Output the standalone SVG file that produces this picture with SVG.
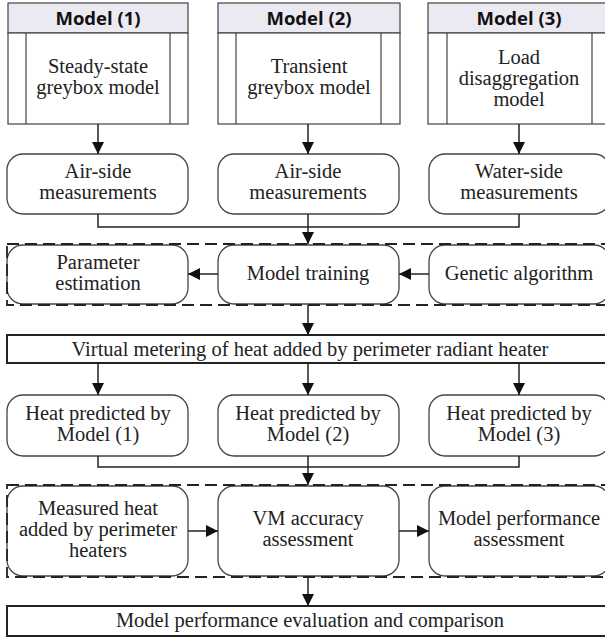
<svg xmlns="http://www.w3.org/2000/svg" width="605" height="638" viewBox="0 0 605 638">
<style>
.hdr{fill:#ebe9f2;stroke:#444;stroke-width:1.2}
.box{fill:#fff;stroke:#444;stroke-width:1.2}
.rb{fill:#fff;stroke:#444;stroke-width:1.3}
.thick{fill:#fff;stroke:#222;stroke-width:2}
.dash{fill:none;stroke:#222;stroke-width:1.8;stroke-dasharray:12 6}
.ln{fill:none;stroke:#222;stroke-width:1.5}
.t{font-family:"Liberation Serif","Times New Roman",serif;font-size:20.5px;fill:#222;text-anchor:middle}
.h{font-family:"Open Sans","Liberation Sans",sans-serif;font-weight:bold;font-size:18.5px;fill:#111;text-anchor:middle}
</style>
<defs>
<marker id="ah" markerWidth="12" markerHeight="12" viewBox="0 0 12 12" refX="12" refY="6" orient="auto" markerUnits="userSpaceOnUse">
<path d="M0,0 L12,6 L0,12 Z" fill="#111"/>
</marker>
</defs>

<g id="model1">
<rect class="hdr" x="8" y="3" width="180" height="30"/>
<rect class="box" x="8" y="33" width="180" height="91"/>
<line class="box" x1="26" y1="33" x2="26" y2="124"/>
<line class="box" x1="170" y1="33" x2="170" y2="124"/>
<text class="h" x="98" y="25">Model (1)</text>
<text class="t" x="98" y="73">Steady-state</text>
<text class="t" x="98" y="94">greybox model</text>
</g>
<g id="model2">
<rect class="hdr" x="218" y="3" width="182" height="30"/>
<rect class="box" x="218" y="33" width="182" height="91"/>
<line class="box" x1="236" y1="33" x2="236" y2="124"/>
<line class="box" x1="381" y1="33" x2="381" y2="124"/>
<text class="h" x="309" y="25">Model (2)</text>
<text class="t" x="309" y="73">Transient</text>
<text class="t" x="309" y="94">greybox model</text>
</g>
<g id="model3">
<rect class="hdr" x="428" y="3" width="182" height="30"/>
<rect class="box" x="428" y="33" width="182" height="91"/>
<line class="box" x1="447" y1="33" x2="447" y2="124"/>
<line class="box" x1="592" y1="33" x2="592" y2="124"/>
<text class="h" x="519" y="25">Model (3)</text>
<text class="t" x="519" y="64">Load</text>
<text class="t" x="519" y="85">disaggregation</text>
<text class="t" x="519" y="106">model</text>
</g>

<g id="air1"><rect class="rb" x="7" y="154" width="181" height="60" rx="16"/>
<text class="t" x="98" y="178">Air-side</text><text class="t" x="98" y="199">measurements</text></g>
<g id="air2"><rect class="rb" x="218" y="154" width="181" height="60" rx="16"/>
<text class="t" x="308" y="178">Air-side</text><text class="t" x="308" y="199">measurements</text></g>
<g id="water"><rect class="rb" x="429" y="154" width="181" height="60" rx="16"/>
<text class="t" x="519" y="178">Water-side</text><text class="t" x="519" y="199">measurements</text></g>

<g id="param"><rect class="rb" x="7" y="245" width="181" height="59" rx="16"/>
<text class="t" x="98" y="269">Parameter</text><text class="t" x="98" y="290">estimation</text></g>
<g id="training"><rect class="rb" x="218" y="245" width="181" height="59" rx="16"/>
<text class="t" x="308" y="280">Model training</text></g>
<g id="genetic"><rect class="rb" x="429" y="245" width="181" height="59" rx="16"/>
<text class="t" x="519" y="280">Genetic algorithm</text></g>
<rect id="group1" class="dash" x="7" y="244" width="603" height="61"/>

<g id="virtual"><rect class="thick" x="7" y="335" width="603" height="28"/>
<text class="t" x="310" y="356">Virtual metering of heat added by perimeter radiant heater</text></g>

<g id="heat1"><rect class="rb" x="7" y="395" width="181" height="61" rx="16"/>
<text class="t" x="98" y="420">Heat predicted by</text><text class="t" x="98" y="441">Model (1)</text></g>
<g id="heat2"><rect class="rb" x="218" y="395" width="181" height="61" rx="16"/>
<text class="t" x="308" y="420">Heat predicted by</text><text class="t" x="308" y="441">Model (2)</text></g>
<g id="heat3"><rect class="rb" x="429" y="395" width="181" height="61" rx="16"/>
<text class="t" x="519" y="420">Heat predicted by</text><text class="t" x="519" y="441">Model (3)</text></g>

<g id="measured"><rect class="rb" x="7" y="486" width="181" height="90" rx="16"/>
<text class="t" x="98" y="515">Measured heat</text><text class="t" x="98" y="536">added by perimeter</text><text class="t" x="98" y="557">heaters</text></g>
<g id="vm"><rect class="rb" x="218" y="486" width="181" height="90" rx="16"/>
<text class="t" x="308" y="525">VM accuracy</text><text class="t" x="308" y="546">assessment</text></g>
<g id="perf"><rect class="rb" x="429" y="486" width="181" height="90" rx="16"/>
<text class="t" x="519" y="525">Model performance</text><text class="t" x="519" y="546">assessment</text></g>
<rect id="group2" class="dash" x="7" y="485" width="603" height="92"/>

<g id="final"><rect class="thick" x="7" y="606" width="603" height="30"/>
<text class="t" x="310" y="627">Model performance evaluation and comparison</text></g>

<g id="connectors">
<line class="ln" x1="98" y1="124" x2="98" y2="154" marker-end="url(#ah)"/>
<line class="ln" x1="308" y1="124" x2="308" y2="154" marker-end="url(#ah)"/>
<line class="ln" x1="519" y1="124" x2="519" y2="154" marker-end="url(#ah)"/>
<polyline class="ln" points="98,214 98,227 519,227 519,214"/>
<line class="ln" x1="308" y1="214" x2="308" y2="244" marker-end="url(#ah)"/>
<line class="ln" x1="218" y1="274" x2="188" y2="274" marker-end="url(#ah)"/>
<line class="ln" x1="429" y1="274" x2="399" y2="274" marker-end="url(#ah)"/>
<line class="ln" x1="308" y1="305" x2="308" y2="335" marker-end="url(#ah)"/>
<line class="ln" x1="98" y1="363" x2="98" y2="395" marker-end="url(#ah)"/>
<line class="ln" x1="308" y1="363" x2="308" y2="395" marker-end="url(#ah)"/>
<line class="ln" x1="519" y1="363" x2="519" y2="395" marker-end="url(#ah)"/>
<polyline class="ln" points="98,456 98,467 519,467 519,456"/>
<line class="ln" x1="308" y1="456" x2="308" y2="485" marker-end="url(#ah)"/>
<line class="ln" x1="188" y1="531" x2="218" y2="531" marker-end="url(#ah)"/>
<line class="ln" x1="399" y1="531" x2="429" y2="531" marker-end="url(#ah)"/>
<line class="ln" x1="308" y1="577" x2="308" y2="606" marker-end="url(#ah)"/>
</g>
</svg>
